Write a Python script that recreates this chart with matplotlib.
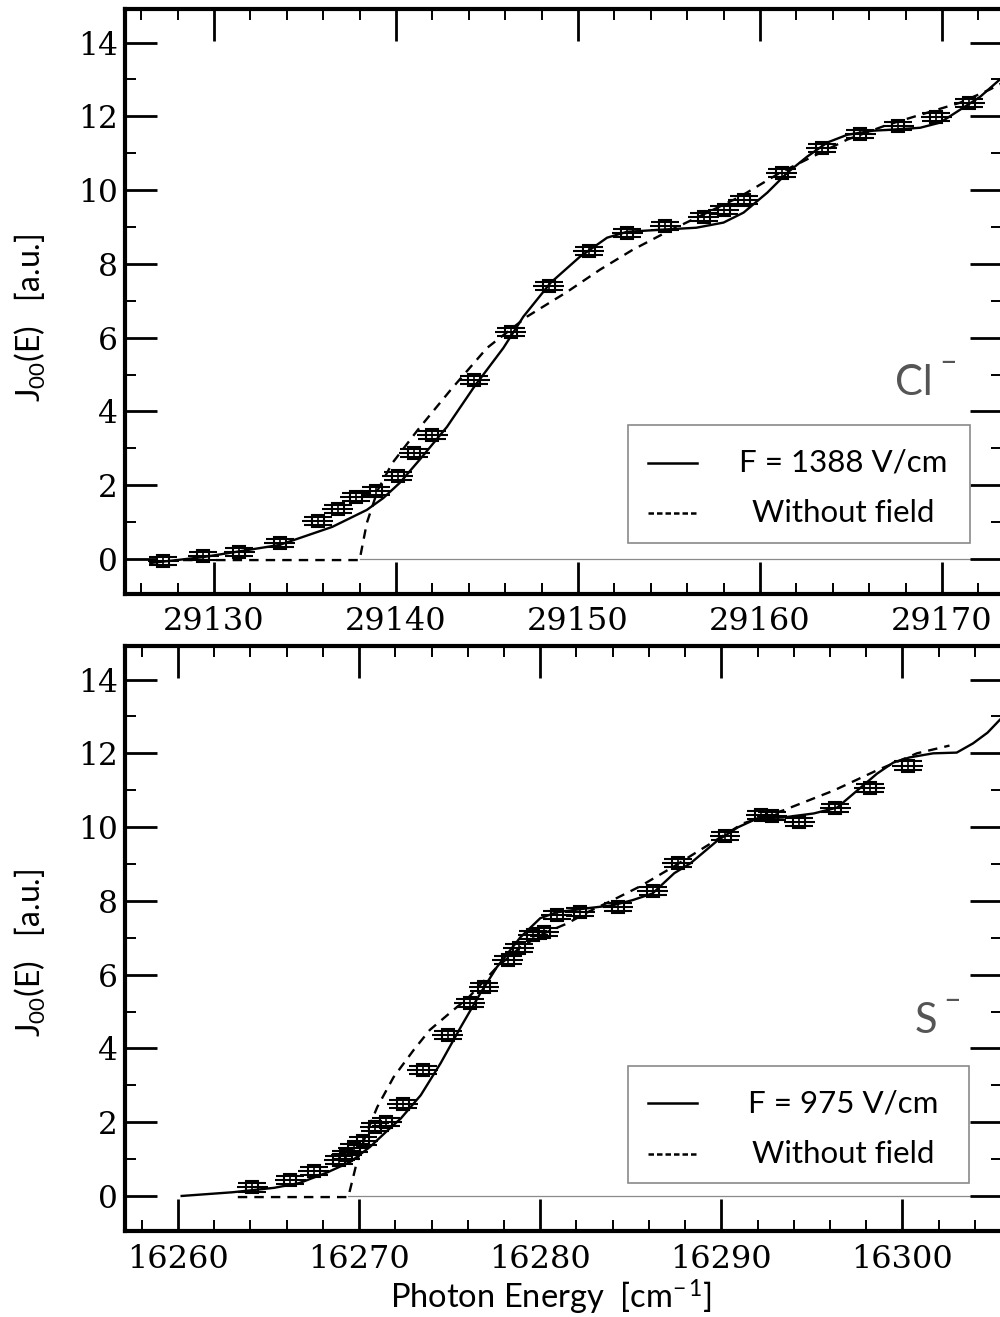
import matplotlib
matplotlib.use("Agg")
import matplotlib.pyplot as plt
from matplotlib.patches import Rectangle
from matplotlib.lines import Line2D
from matplotlib.ticker import MultipleLocator, FuncFormatter

plt.rcParams['mathtext.fontset'] = 'custom'
plt.rcParams['mathtext.rm'] = 'Lato'
plt.rcParams['mathtext.it'] = 'Lato:italic'
plt.rcParams['mathtext.bf'] = 'Lato:bold'

# ---------------- Data: Cl- (top panel) ----------------
cl_pts_x = [29127.2, 29129.4, 29131.4, 29133.6, 29135.7, 29136.8, 29137.8, 29138.9,
            29140.1, 29141.0, 29142.0, 29144.3, 29146.3, 29148.4, 29150.6, 29152.7,
            29154.8, 29156.9, 29158.0, 29159.1, 29161.2, 29163.4, 29165.5, 29167.6,
            29169.7, 29171.5]
cl_pts_y = [-0.05, 0.08, 0.19, 0.43, 1.03, 1.36, 1.68, 1.84,
            2.25, 2.88, 3.36, 4.86, 6.16, 7.39, 8.35, 8.84,
            9.03, 9.28, 9.47, 9.74, 10.47, 11.15, 11.53, 11.75,
            11.99, 12.37]

cl_fit_x = [29126.5, 29129.4, 29133.6, 29136.5, 29138.4, 29139.3, 29140.2, 29141.3,
            29142.8, 29144.3, 29145.9, 29147.0, 29148.5, 29150.1, 29151.6, 29152.7,
            29154.7, 29156.5, 29158.0, 29159.1, 29160.4, 29161.5, 29162.6, 29163.7,
            29164.8, 29166.2, 29167.3, 29168.8, 29169.9, 29171.0, 29172.1, 29173.3]
cl_fit_y = [-0.11, 0.05, 0.38, 0.87, 1.33, 1.65, 2.06, 2.69,
            3.58, 4.67, 5.72, 6.57, 7.49, 8.19, 8.71, 8.87,
            8.93, 8.98, 9.12, 9.39, 9.93, 10.47, 10.91, 11.29,
            11.50, 11.61, 11.64, 11.69, 11.83, 12.18, 12.53, 13.05]

cl_nof_x = [29128.3, 29138.0, 29138.4, 29139.0, 29139.8, 29141.2, 29143.0, 29145.0,
            29147.2, 29149.4, 29151.2, 29153.0, 29154.9, 29157.1, 29158.9, 29161.1,
            29162.9, 29164.8, 29167.0, 29169.2, 29171.0, 29172.6, 29173.3]
cl_nof_y = [-0.03, -0.03, 0.98, 1.87, 2.60, 3.50, 4.58, 5.72,
            6.57, 7.24, 7.84, 8.38, 8.87, 9.39, 9.82, 10.47,
            10.91, 11.37, 11.77, 12.10, 12.37, 12.72, 12.90]
cl_threshold = 29138.0
cl_field_label = "F = 1388 V/cm"

# ---------------- Data: S- (bottom panel) ----------------
s_pts_x = [16264.1, 16266.2, 16267.5, 16268.9, 16269.3, 16269.7, 16270.2, 16270.9,
           16271.5, 16272.4, 16273.5, 16274.9, 16276.1, 16276.9, 16278.2, 16278.8,
           16279.6, 16280.2, 16280.9, 16282.2, 16284.3, 16286.2, 16287.6, 16290.2,
           16292.2, 16292.8, 16294.3, 16296.3, 16298.2, 16300.3]
s_pts_y = [0.23, 0.44, 0.67, 0.98, 1.12, 1.30, 1.50, 1.88,
           2.00, 2.49, 3.41, 4.36, 5.24, 5.66, 6.39, 6.72,
           7.07, 7.15, 7.61, 7.69, 7.83, 8.27, 9.03, 9.75,
           10.32, 10.30, 10.13, 10.53, 11.07, 11.67]

s_fit_x = [16260.2, 16263.0, 16265.3, 16266.7, 16268.2, 16269.5, 16270.6, 16271.6,
           16272.3, 16273.4, 16274.5, 16275.6, 16276.7, 16277.6, 16278.9, 16280.0,
           16280.9, 16282.6, 16284.0, 16285.1, 16286.2, 16287.4, 16288.3, 16289.8,
           16290.9, 16292.0, 16293.4, 16295.1, 16296.4, 16297.5, 16298.6, 16299.5,
           16300.4, 16301.7, 16303.0, 16303.9, 16304.7, 16305.5]
s_fit_y = [0.0, 0.10, 0.22, 0.35, 0.63, 0.92, 1.33, 1.79,
           2.10, 2.73, 3.60, 4.57, 5.50, 6.20, 7.01, 7.53,
           7.69, 7.80, 7.88, 8.02, 8.20, 8.75, 9.02, 9.64,
           9.99, 10.24, 10.26, 10.37, 10.53, 10.99, 11.45, 11.75,
           11.89, 12.00, 12.02, 12.27, 12.56, 12.97]

s_nof_x = [16263.3, 16269.4, 16269.9, 16270.4, 16271.0, 16271.9, 16273.0, 16273.9,
           16275.2, 16276.0, 16277.6, 16278.9, 16280.2, 16281.5, 16282.6, 16284.0,
           16285.5, 16287.4, 16288.8, 16291.2, 16293.4, 16296.2, 16298.6, 16300.8,
           16302.6]
s_nof_y = [-0.03, -0.03, 0.97, 1.70, 2.41, 3.22, 3.95, 4.50,
           5.04, 5.36, 6.20, 6.74, 7.12, 7.39, 7.69, 8.02,
           8.39, 8.94, 9.37, 10.10, 10.45, 10.99, 11.54, 12.00,
           12.21]
s_threshold = 16269.4
s_field_label = "F = 975 V/cm"

nofield_label = "Without field"
ylabel_text = r"J$_{\mathrm{00}}$(E)   [a.u.]"
xlabel_text = r"Photon Energy  [cm$^{-\,1}$]"

W, H = 1000, 1317
fig = plt.figure(figsize=(W / 100, H / 100), dpi=100)

TICKFONT = 'DejaVu Serif'
SANS = 'Lato'


def style_axes(ax, xlim, xmajor):
    ax.set_xlim(*xlim)
    ax.set_ylim(-0.95, 14.91)
    ax.xaxis.set_major_locator(MultipleLocator(xmajor))
    ax.xaxis.set_minor_locator(MultipleLocator(2))
    ax.yaxis.set_major_locator(MultipleLocator(2))
    ax.yaxis.set_minor_locator(MultipleLocator(1))
    ax.tick_params(which='both', direction='in', top=True, right=True)
    ax.tick_params(which='major', length=23, width=2.0)
    ax.tick_params(which='minor', length=8, width=1.4)
    ax.tick_params(axis='x', which='major', pad=9, labelsize=23)
    ax.tick_params(axis='y', which='major', pad=5, labelsize=22.5)
    ax.xaxis.set_major_formatter(FuncFormatter(lambda v, p: f"{v:.0f}"))
    ax.yaxis.set_major_formatter(FuncFormatter(lambda v, p: f"{v:.0f}"))
    for lab in ax.get_xticklabels() + ax.get_yticklabels():
        lab.set_fontfamily(TICKFONT)
    for sp in ax.spines.values():
        sp.set_linewidth(3.0)


def draw_panel(ax, px, py, fx, fy, nx, ny, thr, xright, flabel, ion, ion_pos, leg):
    ax.plot([thr, xright], [0, 0], color='#8a8a8a', lw=0.9, zorder=1)
    ax.plot(fx, fy, color='black', lw=1.7, zorder=3)
    ax.plot(nx, ny, color='black', lw=1.7, linestyle=(0, (4, 3)), zorder=3)
    # horizontal error bars (no caps)
    ax.errorbar(px, py, xerr=0.85, fmt='none', ecolor='black', elinewidth=1.5,
                capsize=0, zorder=4)
    # small vertical errors with wide caps
    ax.errorbar(px, py, yerr=0.11, fmt='s', ms=8, mfc='none', mec='black',
                mew=1.5, ecolor='black', elinewidth=1.2, capsize=10, capthick=1.3,
                zorder=4)
    # ion label
    ax.text(ion_pos[0], ion_pos[1], ion, transform=ax.transAxes, ha='right',
            va='baseline', fontsize=30, color='#555555', family=SANS)
    ax.text(ion_pos[0] + 0.017, ion_pos[1] + 0.057, "\u2013", transform=ax.transAxes,
            ha='center', va='center', fontsize=22, color='#555555', family=SANS)
    # legend box
    x0, y0, x1, y1 = leg
    ax.add_patch(Rectangle((x0, y0), x1 - x0, y1 - y0, transform=ax.transAxes,
                           fill=True, facecolor='white', edgecolor='#8a8a8a', lw=1.2,
                           zorder=5))
    ly1 = y0 + (y1 - y0) * 0.68
    ly2 = y0 + (y1 - y0) * 0.25
    ax.add_line(Line2D([0.596, 0.652], [ly1, ly1], transform=ax.transAxes,
                       color='black', lw=1.8, zorder=6))
    ax.add_line(Line2D([0.596, 0.652], [ly2, ly2], transform=ax.transAxes,
                       color='black', lw=1.8, linestyle=(0, (2.2, 1.2)), zorder=6))
    ax.text(0.819, ly1, flabel, transform=ax.transAxes, ha='center', va='center',
            fontsize=22.5, family=SANS, zorder=6)
    ax.text(0.819, ly2, nofield_label, transform=ax.transAxes, ha='center',
            va='center', fontsize=22.5, family=SANS, zorder=6)


ax1 = fig.add_axes([0.125, 1 - 594 / H, 0.877, 585 / H])
ax2 = fig.add_axes([0.125, 1 - 1231 / H, 0.877, 585 / H])

cl_xlim = (29125.11, 29173.3)
s_xlim = (16257.07, 16305.5)

style_axes(ax1, cl_xlim, 10)
style_axes(ax2, s_xlim, 10)

draw_panel(ax1, cl_pts_x, cl_pts_y, cl_fit_x, cl_fit_y, cl_nof_x, cl_nof_y,
           cl_threshold, cl_xlim[1], cl_field_label, "Cl", (0.921, 0.340),
           (0.5735, 0.0872, 0.9635, 0.2889))
draw_panel(ax2, s_pts_x, s_pts_y, s_fit_x, s_fit_y, s_nof_x, s_nof_y,
           s_threshold, s_xlim[1], s_field_label, "S", (0.926, 0.338),
           (0.5735, 0.082, 0.962, 0.282))

fig.text(0.030, 1 - 318 / H, ylabel_text, rotation=90, ha='center', va='center',
         fontsize=23, family=SANS)
fig.text(0.030, 1 - 953 / H, ylabel_text, rotation=90, ha='center', va='center',
         fontsize=23, family=SANS)
fig.text(0.551, 1 - 1297 / H, xlabel_text, ha='center', va='center',
         fontsize=23.5, family=SANS)

fig.savefig("out.png", dpi=100)
